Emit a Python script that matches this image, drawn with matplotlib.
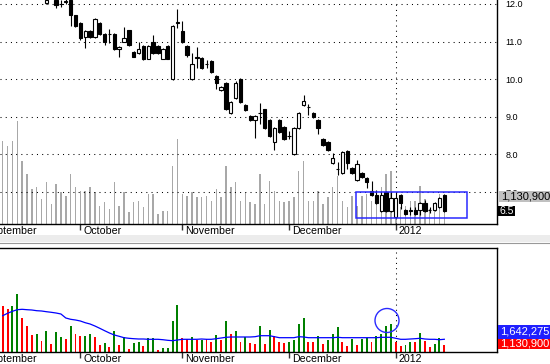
import numpy as np
import matplotlib
matplotlib.use("Agg")
import matplotlib.pyplot as plt
import matplotlib.transforms as mtransforms
from matplotlib.patches import Rectangle, Ellipse

plt.rcParams["font.family"] = ["Liberation Sans", "DejaVu Sans"]

# --- daily candles, Sep 2011 .. Jan 2012 (trading-day index) ---
opens = [13.1, 12.8, 12.5, 12.6, 12.9, 12.7, 12.6, 12.4, 12.5, 12.02,
         12.3, 12.1, 12.0, 12.05, 12.1, 11.7, 11.5, 11.13, 11.28, 11.12,
         11.5, 11.2, 11.2, 11.2, 10.8, 11.0, 11.3, 10.73, 10.7, 10.88,
         10.55, 11.0, 10.88, 10.55, 10.88, 10.0, 11.5, 11.28, 10.89, 10.0,
         10.57, 10.57, 10.4, 10.48, 10.09, 9.71, 9.9, 9.09, 9.49, 10.0,
         9.31, 9.02, 8.91, 9.1, 9.2, 8.91, 8.33, 8.91, 8.73, 8.49,
         8.0, 8.7, 9.31, 9.26, 9.1, 8.91, 8.41, 8.33, 7.77, 7.61,
         7.5, 8.09, 7.64, 7.32, 7.5, 7.37, 7.03, 6.92, 6.5, 7.0,
         6.5, 6.34, 6.92, 6.52, 6.5, 6.52, 6.52, 6.71, 6.52, 6.52,
         6.6, 6.92]
highs = [13.2, 12.9, 12.9, 13.0, 13.0, 12.8, 12.7, 12.6, 12.55, 12.15,
         12.35, 12.15, 12.1, 12.15, 12.15, 11.72, 11.52, 11.3, 11.3, 11.62,
         11.52, 11.22, 11.33, 11.22, 10.87, 11.4, 11.32, 10.75, 11.0, 10.9,
         10.9, 11.18, 10.9, 10.82, 10.9, 11.43, 11.87, 11.55, 10.92, 10.7,
         10.86, 10.6, 10.5, 10.5, 10.1, 9.82, 9.92, 9.42, 9.95, 10.02,
         9.33, 9.04, 9.04, 9.37, 9.22, 8.93, 8.72, 8.93, 8.75, 8.62,
         8.72, 9.12, 9.58, 9.35, 9.12, 8.93, 8.43, 8.35, 8.05, 7.8,
         8.08, 8.11, 7.66, 7.85, 7.52, 7.39, 7.3, 7.05, 7.0, 7.02,
         7.0, 7.0, 6.94, 6.54, 6.6, 6.6, 6.73, 6.8, 6.6, 6.73,
         6.88, 6.94]
lows = [12.7, 12.4, 12.4, 12.5, 12.6, 12.5, 12.4, 12.35, 12.3, 12.0,
        12.15, 11.9, 11.92, 12.0, 11.42, 11.4, 11.05, 10.83, 11.1, 11.1,
        11.18, 10.9, 10.96, 10.78, 10.6, 10.98, 10.88, 10.58, 10.68, 10.5,
        10.53, 10.68, 10.68, 10.53, 10.53, 9.98, 11.36, 10.95, 10.6, 9.98,
        10.3, 10.28, 10.3, 10.17, 9.75, 9.69, 9.18, 9.07, 9.47, 9.38,
        9.16, 8.89, 8.44, 8.8, 8.68, 8.47, 8.12, 8.58, 8.39, 8.4,
        7.98, 8.68, 9.29, 9.05, 8.98, 8.55, 8.23, 8.1, 7.75, 7.45,
        7.48, 7.6, 7.48, 7.3, 7.38, 7.1, 6.9, 6.69, 6.48, 6.48,
        6.48, 6.32, 6.55, 6.38, 6.38, 6.39, 6.4, 6.48, 6.45, 6.5,
        6.58, 6.48]
closes = [12.8, 12.5, 12.8, 12.9, 12.7, 12.6, 12.45, 12.55, 12.35, 12.1,
          12.2, 11.97, 12.0, 12.08, 11.7, 11.42, 11.1, 11.29, 11.12, 11.6,
          11.2, 11.0, 11.21, 10.8, 10.85, 11.1, 10.9, 10.6, 10.8, 10.55,
          10.88, 10.7, 10.7, 10.8, 10.55, 11.41, 11.52, 11.0, 10.64, 10.4,
          10.58, 10.3, 10.41, 10.19, 9.89, 9.8, 9.2, 9.4, 9.89, 9.4,
          9.18, 8.91, 9.02, 9.11, 8.7, 8.49, 8.7, 8.6, 8.41, 8.5,
          8.7, 9.1, 9.43, 9.27, 9.0, 8.7, 8.25, 8.12, 7.9, 7.62,
          8.06, 7.77, 7.5, 7.74, 7.4, 7.27, 6.92, 6.71, 6.92, 6.5,
          6.84, 6.84, 6.71, 6.41, 6.51, 6.41, 6.71, 6.5, 6.52, 6.71,
          6.84, 6.5]

volume = [4626000, 4357000, 4626000, 5703000, 3550000, 2832000, 2025000, 2115000, 1487000, 2384000,
          1218000, 2294000, 1846000, 1666000, 2832000, 2115000, 1935000, 1935000, 2115000, 1846000,
          1128000, 1307000, 949000, 2384000, 1128000, 1846000, 769000, 1307000, 1397000, 1038000,
          1756000, 1756000, 679000, 859000, 859000, 3281000, 4716000, 1756000, 1666000, 1846000,
          1576000, 1576000, 1666000, 1397000, 2025000, 1576000, 3281000, 2115000, 2384000, 1397000,
          1846000, 1307000, 1218000, 2832000, 1218000, 2473000, 1935000, 1397000, 1307000, 1397000,
          1576000, 3012000, 3550000, 1397000, 1397000, 1935000, 1218000, 1576000, 2115000, 2743000,
          1397000, 1038000, 1666000, 1128000, 1666000, 1756000, 1397000, 1935000, 2115000, 2832000,
          3012000, 1397000, 1038000, 1128000, 1397000, 1397000, 2204000, 1487000, 949000, 1218000,
          1756000, 1130900]
# 1 = up day (green), 0 = down day (red)
vol_up = [0, 0, 1, 1, 0, 0, 0, 1, 0, 1,
          0, 1, 1, 0, 1, 0, 0, 1, 1, 0,
          0, 1, 0, 1, 0, 1, 0, 1, 1, 0,
          1, 1, 0, 1, 1, 1, 1, 0, 0, 1,
          0, 1, 0, 0, 1, 0, 1, 0, 1, 0,
          1, 0, 0, 1, 0, 1, 0, 0, 0, 1,
          1, 1, 1, 0, 0, 1, 0, 1, 1, 1,
          0, 0, 1, 0, 1, 1, 0, 1, 1, 1,
          1, 0, 0, 1, 1, 0, 1, 0, 0, 1,
          1, 0]
vol_ma = [3756000, 3971000, 4151000, 4294000, 4330000, 4294000, 4267000, 4205000, 4178000, 4115000,
          4061000, 3998000, 3909000, 3550000, 3433000, 3370000, 3281000, 3128000, 3012000, 2832000,
          2626000, 2411000, 2204000, 2025000, 1908000, 1783000, 1729000, 1693000, 1666000, 1666000,
          1639000, 1639000, 1639000, 1603000, 1549000, 1514000, 1576000, 1639000, 1639000, 1639000,
          1639000, 1666000, 1639000, 1639000, 1693000, 1756000, 1819000, 1846000, 1846000, 1846000,
          1846000, 1846000, 1872000, 1962000, 1962000, 1962000, 1872000, 1783000, 1783000, 1783000,
          1783000, 1872000, 1846000, 1783000, 1783000, 1783000, 1783000, 1783000, 1783000, 1819000,
          1783000, 1783000, 1783000, 1783000, 1783000, 1783000, 1783000, 1783000, 1819000, 1819000,
          1819000, 1729000, 1639000, 1639000, 1666000, 1693000, 1729000, 1666000, 1639000, 1639000,
          1603000, 1642275]

month_starts = [16, 37, 59, 81]
month_names = ["October", "November", "December", "2012"]
sept_start = -4.4
price_ticks = [7.0, 8.0, 9.0, 10.0, 11.0, 12.0]

W, H = 550, 364
fig = plt.figure(figsize=(W / 100, H / 100), dpi=100)


def frac(x0, y0, x1, y1):
    return [x0 / W, 1 - y1 / H, (x1 - x0) / W, (y1 - y0) / H]


x = np.arange(len(closes))
o, hi, lo, c = map(np.array, (opens, highs, lows, closes))
xlim = (-0.556, -0.556 + 497 / 4.853)
dots = (0, (1, 4))

# --- price panel ---
ax = fig.add_axes(frac(0, 0, 497, 224))
vax = ax.twinx()
ax.set_zorder(vax.get_zorder() + 1)
ax.patch.set_visible(False)

vax.bar(x, volume, width=0.3, color="#a8a8a8", linewidth=0)
vax.set_ylim(0.138e6, 12.24e6)
vax.yaxis.set_visible(False)
for s in vax.spines.values():
    s.set_visible(False)

up = c >= o
body_lo = np.minimum(o, c)
body_h = np.maximum(np.abs(c - o), 0.012)
ax.vlines(x, lo, hi, color="black", linewidth=0.8, zorder=2)
ax.bar(x, body_h, bottom=body_lo, width=0.7,
       color=np.where(up, "white", "black"), edgecolor="black", linewidth=0.8, zorder=3)

ax.set_xlim(xlim)
ax.set_ylim(6.149, 12.106)
ax.set_yticks(price_ticks)
ax.yaxis.set_major_formatter(plt.FormatStrFormatter("%.1f"))
ax.yaxis.tick_right()
ax.tick_params(axis="y", length=0, pad=6, labelsize=6.5)
ax.set_axisbelow(True)
ax.yaxis.grid(True, linestyle=dots, color="black", linewidth=0.75)
ax.axvline(month_starts[-1], linestyle=dots, color="black", linewidth=0.75, zorder=1)
ax.spines["left"].set_visible(False)
ax.spines["top"].set_visible(False)

ax.add_patch(Rectangle((72.8, 6.32), 22.9, 0.68, fill=False,
                       edgecolor="#2a2aff", linewidth=1.1, zorder=5))

# --- volume panel ---
axl = fig.add_axes(frac(0, 248, 497, 352))
vup = np.array(vol_up) == 1
axl.bar(x, volume, width=0.4, color=np.where(vup, "#008000", "#ff0000"), linewidth=0)
axl.plot(x, vol_ma, color="#0000ff", linewidth=0.9)
axl.set_xlim(xlim)
axl.set_ylim(0.5e6, 0.5e6 + 104 * 89700)
axl.set_yticks([])
axl.axvline(month_starts[-1], linestyle=dots, color="black", linewidth=0.75, zorder=0)
axl.spines["left"].set_visible(False)

# month ticks / labels on both panels
for a in (ax, axl):
    a.set_xticks(month_starts)
    a.set_xticklabels([])
    a.tick_params(axis="x", direction="out", length=4, width=1, color="#333333")
    tr = mtransforms.offset_copy(
        mtransforms.blended_transform_factory(a.transData, a.transAxes),
        fig=fig, x=0, y=-1.5, units="points")
    for pos, name in zip([sept_start] + month_starts, ["September"] + month_names):
        a.text(pos + 0.6, 0, name, transform=tr, ha="left", va="top",
               fontsize=7.7, clip_on=False)

for a in (ax, axl):
    for s in a.spines.values():
        s.set_linewidth(1.0)

# separator band between panels
fig.add_artist(Rectangle((0, 1 - 242 / H), 1, 7 / H, transform=fig.transFigure,
                         facecolor="#ececec", edgecolor="none", zorder=0))
fig.add_artist(plt.Line2D([0, 1], [1 - 242.5 / H] * 2, transform=fig.transFigure,
                          color="#999999", linewidth=0.8))

# circle around the volume spike
fig.add_artist(Ellipse((387 / W, 1 - 320.5 / H), 24 / W, 24 / H, transform=fig.transFigure,
                       fill=False, edgecolor="#2a2aff", linewidth=1.0, zorder=10))


# value tags on the right
def tag(x0, y0, x1, y1, text, fc, tc, fs=8):
    fig.add_artist(Rectangle((x0 / W, 1 - y1 / H), (x1 - x0) / W, (y1 - y0) / H,
                             transform=fig.transFigure, facecolor=fc, edgecolor="none", zorder=8))
    fig.text((x0 + 2) / W, 1 - (y0 + y1) / 2 / H, text, color=tc, fontsize=fs,
             va="center", ha="left", zorder=9)


tag(499, 191, 551, 202, f"{volume[-1]:,}", "#c0c0c0", "black")
tag(497, 206, 515, 216, f"{closes[-1]:.1f}", "black", "white", fs=7.5)
tag(498, 325, 551, 339, f"{vol_ma[-1]:,}", "#1f1fff", "white")
tag(498, 339, 551, 349, f"{volume[-1]:,}", "#ff0000", "white")

fig.savefig("out.png", dpi=100)
